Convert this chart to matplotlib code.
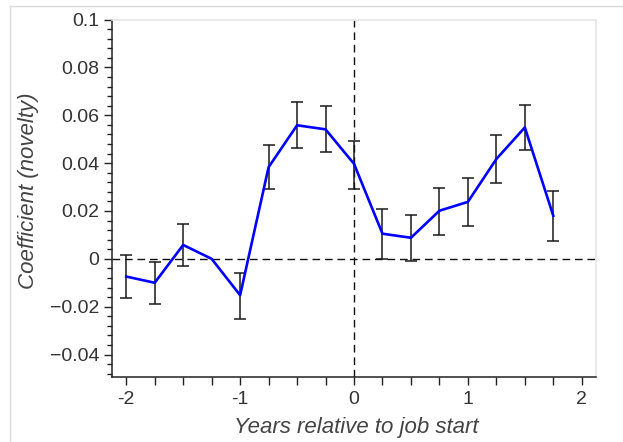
import numpy as np
import matplotlib
matplotlib.use("Agg")
import matplotlib.pyplot as plt
from matplotlib.ticker import MultipleLocator, FixedLocator, FixedFormatter
from matplotlib.lines import Line2D

# ---- data ----
years = [-2.0, -1.75, -1.5, -1.25, -1.0, -0.75, -0.5, -0.25, 0.0, 0.25, 0.5, 0.75, 1.0, 1.25, 1.5, 1.75]
coef = [-0.0074, -0.0100, 0.0058, 0.0000, -0.0152, 0.0383, 0.0558, 0.0541, 0.0397,
        0.0105, 0.0088, 0.0201, 0.0238, 0.0417, 0.0549, 0.0180]
ci_low = [-0.0163, -0.0190, -0.0031, np.nan, -0.0251, 0.0290, 0.0463, 0.0446, 0.0293,
          0.0000, -0.0011, 0.0100, 0.0138, 0.0318, 0.0453, 0.0075]
ci_high = [0.0017, -0.0015, 0.0146, np.nan, -0.0059, 0.0474, 0.0654, 0.0639, 0.0492,
           0.0209, 0.0185, 0.0298, 0.0337, 0.0517, 0.0643, 0.0282]
xtick_vals = [-2, -1, 0, 1, 2]
xtick_labels = ["-2", "-1", "0", "1", "2"]
ytick_vals = [-0.04, -0.02, 0, 0.02, 0.04, 0.06, 0.08, 0.1]
ytick_labels = ["\u22120.04", "\u22120.02", "0", "0.02", "0.04", "0.06", "0.08", "0.1"]

plt.rcParams['font.family'] = ['Liberation Sans', 'DejaVu Sans']

W, H = 623, 442
fig = plt.figure(figsize=(W / 100, H / 100), dpi=100)
ax = fig.add_axes([112 / W, 1 - 377.3 / H, (596 - 112) / W, (377.3 - 19.5) / H])

x = np.array(years)
y = np.array(coef)
lo = np.array(ci_low)
hi = np.array(ci_high)
m = ~np.isnan(lo)

# reference lines
ax.axhline(0, color="#111111", lw=1.0, ls=(0, (5.5, 3.5)), zorder=1)
ax.axvline(0, color="#111111", lw=1.0, ls=(0, (5.5, 3.5)), zorder=1)

ax.errorbar(x[m], y[m], yerr=[y[m] - lo[m], hi[m] - y[m]], fmt="none",
            ecolor="#1a1a1a", elinewidth=1.1, capsize=4.6, capthick=1.1, zorder=2)
ax.plot(x, y, color="#0000ff", lw=1.9, zorder=3, solid_joinstyle="round")

ax.set_xlim(-2.125, 2.125)
ax.set_ylim(-0.0495, 0.1)

xt = np.arange(-2, 2.01, 0.25)
ax.set_xticks(xt)
ax.set_xticklabels([xtick_labels[xtick_vals.index(int(v))] if float(v).is_integer() else "" for v in xt])
ax.yaxis.set_major_locator(FixedLocator(ytick_vals))
ax.yaxis.set_major_formatter(FixedFormatter(ytick_labels))
ax.yaxis.set_minor_locator(MultipleLocator(0.004))

ax.tick_params(axis="x", which="major", direction="out", length=6, width=1, color="#222222",
               labelsize=14, labelcolor="#333333", pad=4)
ax.tick_params(axis="y", which="major", direction="out", length=6, width=1, color="#222222",
               labelsize=14, labelcolor="#333333", pad=3)
ax.tick_params(axis="y", which="minor", direction="out", length=3.5, width=1, color="#222222")

for s in ["left", "bottom"]:
    ax.spines[s].set_color("#222222")
    ax.spines[s].set_linewidth(1.1)
for s in ["top", "right"]:
    ax.spines[s].set_color("#e6e6e6")
    ax.spines[s].set_linewidth(1.2)

fig.text(356 / W, 1 - 428 / H, "Years relative to job start", ha="center", va="center",
         fontsize=16, style="italic", color="#444444")
fig.text(29 / W, 1 - 191 / H, "Coefficient (novelty)", ha="center", va="center",
         rotation=90, fontsize=16, style="italic", color="#444444")

# light frame of the screenshot
fig.add_artist(Line2D([9.5 / W, 1.0], [1 - 6 / H, 1 - 6 / H], transform=fig.transFigure,
                      color="#d9d9d9", lw=1.0))
fig.add_artist(Line2D([9.5 / W, 9.5 / W], [0, 1 - 6 / H], transform=fig.transFigure,
                      color="#d9d9d9", lw=1.0))

fig.savefig("out.png", dpi=100)
